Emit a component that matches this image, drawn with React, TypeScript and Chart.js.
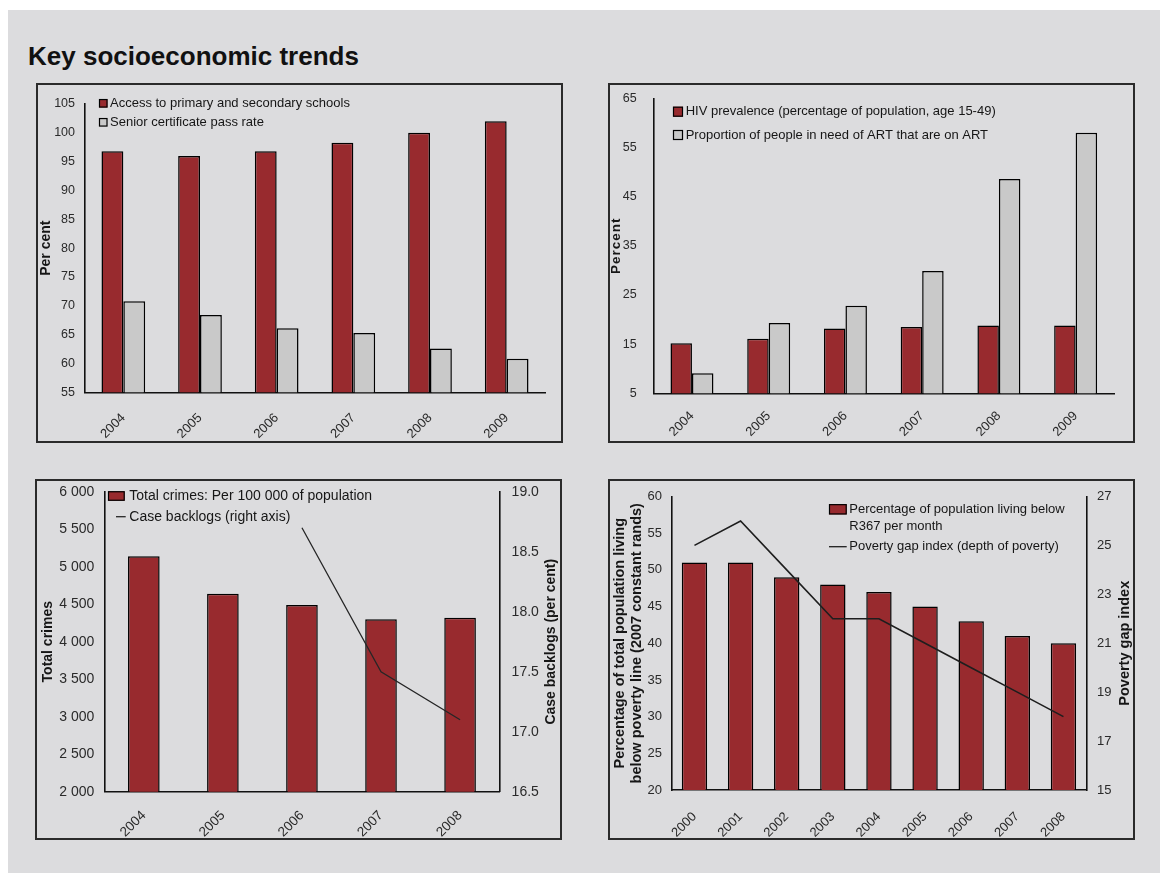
import React, { useEffect, useRef } from 'react';
import { Chart, registerables } from 'chart.js';

Chart.register(...registerables);

const FONT = '"Liberation Sans", Arial, Helvetica, sans-serif';
const RED = '#982a2e';
const LIGHT = '#c9c9c9';
const BG = '#dcdcde';
const INK = '#161616';

// Chart 1: schools
const schoolYears = ['2004', '2005', '2006', '2007', '2008', '2009'];
const schoolAccess = [96.8, 96.0, 96.8, 98.3, 100.0, 102.0];
const seniorPass = [70.8, 68.4, 66.1, 65.3, 62.6, 60.8];

// Chart 2: HIV
const hivYears = ['2004', '2005', '2006', '2007', '2008', '2009'];
const hivPrevalence = [15.2, 16.1, 18.2, 18.5, 18.8, 18.8];
const artCoverage = [9.1, 19.3, 22.8, 29.9, 48.6, 58.0];

// Chart 3: crime
const crimeYears = ['2004', '2005', '2006', '2007', '2008'];
const totalCrimes = [5140, 4640, 4490, 4300, 4320];
const caseBacklogs = [null, null, 18.7, 17.5, 17.1];

// Chart 4: poverty
const povertyYears = ['2000', '2001', '2002', '2003', '2004', '2005', '2006', '2007', '2008'];
const povertyShare = [51, 51, 49, 48, 47, 45, 43, 41, 40];
const povertyGap = [25, 26, 24, 22, 22, 21, 20, 19, 18];

const annotPlugin = {
  id: 'annot',
  afterDatasetsDraw(chart: any, _args: any, opts: any) {
    const ctx = chart.ctx;
    ctx.save();
    const L = opts.legend;
    if (L) {
      ctx.font = `${L.size}px ${FONT}`;
      ctx.textBaseline = 'middle';
      ctx.textAlign = 'left';
      let y = L.y;
      chart.data.datasets.forEach((ds: any) => {
        const lines = String(ds.label).split('\n');
        if (ds.type === 'line') {
          ctx.strokeStyle = ds.borderColor;
          ctx.lineWidth = 1.3;
          ctx.beginPath();
          ctx.moveTo(L.lineX0, y);
          ctx.lineTo(L.lineX1, y);
          ctx.stroke();
        } else {
          ctx.fillStyle = ds.backgroundColor;
          ctx.fillRect(L.x, y - L.h / 2, L.w, L.h);
          ctx.strokeStyle = '#000';
          ctx.lineWidth = 1.2;
          ctx.strokeRect(L.x + 0.5, y - L.h / 2 + 0.5, L.w - 1, L.h - 1);
        }
        ctx.fillStyle = INK;
        lines.forEach((ln: string, i: number) => ctx.fillText(ln, L.textX, y + i * (L.lineH || 0)));
        y += (lines.length - 1) * (L.lineH || 0) + L.gap;
      });
    }
    (opts.titles || []).forEach((t: any) => {
      ctx.save();
      ctx.translate(t.x, (chart.chartArea.top + chart.chartArea.bottom) / 2);
      ctx.rotate(-Math.PI / 2);
      ctx.font = `bold ${t.size}px ${FONT}`;
      if (t.spacing) ctx.letterSpacing = t.spacing;
      ctx.textAlign = 'center';
      ctx.textBaseline = 'middle';
      ctx.fillStyle = INK;
      t.lines.forEach((ln: string, i: number) =>
        ctx.fillText(ln, 0, (i - (t.lines.length - 1) / 2) * (t.lineH || 0))
      );
      ctx.restore();
    });
    ctx.restore();
  },
};

const axisBorder = { display: true, color: '#111', width: 1.6 };
const noGrid = { display: false, drawTicks: false };

function xAxis(height: number, size: number, pad: number) {
  return {
    type: 'category',
    offset: true,
    grid: noGrid,
    border: axisBorder,
    ticks: {
      minRotation: 45,
      maxRotation: 45,
      autoSkip: false,
      padding: pad,
      color: '#2a2a2a',
      font: { family: FONT, size },
    },
    afterFit: (s: any) => {
      s.height = height;
      s.paddingLeft = 0;
      s.paddingRight = 0;
    },
  };
}

function yAxis(opts: any) {
  return {
    type: 'linear',
    position: opts.position || 'left',
    min: opts.min,
    max: opts.max,
    grid: noGrid,
    border: axisBorder,
    ticks: {
      stepSize: opts.step,
      padding: opts.pad,
      color: '#2a2a2a',
      font: { family: FONT, size: opts.size },
      callback: opts.fmt,
    },
    afterFit: (s: any) => {
      s.width = opts.width;
      s.paddingTop = 0;
      s.paddingBottom = 0;
    },
  };
}

const spaceThousands = (v: any) => {
  const s = String(Math.round(Number(v)));
  return s.replace(/\B(?=(\d{3})+(?!\d))/g, ' ');
};

function baseOptions(extra: any) {
  return {
    responsive: false,
    animation: false,
    devicePixelRatio: 1,
    events: [],
    ...extra,
  };
}

const barStyle = { borderColor: '#000', borderWidth: 1.5, barPercentage: 1 };

function config1() {
  return {
    type: 'bar',
    data: {
      labels: schoolYears,
      datasets: [
        {
          label: 'Access to primary and secondary schools',
          data: schoolAccess,
          backgroundColor: RED,
          categoryPercentage: 0.57,
          ...barStyle,
        },
        {
          label: 'Senior certificate pass rate',
          data: seniorPass,
          backgroundColor: LIGHT,
          categoryPercentage: 0.57,
          ...barStyle,
        },
      ],
    },
    options: baseOptions({
      layout: { padding: { top: 19, right: 16, left: 0, bottom: 0 } },
      scales: {
        x: xAxis(48.7, 13, 18),
        y: yAxis({ min: 55, max: 105, step: 5, pad: 10, size: 12.5, width: 47 }),
      },
      plugins: {
        legend: { display: false },
        tooltip: { enabled: false },
        annot: {
          legend: { x: 61, w: 8.5, h: 8.5, textX: 72, y: 18.3, gap: 19, size: 13 },
          titles: [{ x: 8.5, size: 14, lines: ['Per cent'] }],
        },
      },
    }),
    plugins: [annotPlugin],
  };
}

function config2() {
  return {
    type: 'bar',
    data: {
      labels: hivYears,
      datasets: [
        {
          label: 'HIV prevalence (percentage of population, age 15-49)',
          data: hivPrevalence,
          backgroundColor: RED,
          categoryPercentage: 0.56,
          ...barStyle,
        },
        {
          label: 'Proportion of people in need of ART that are on ART',
          data: artCoverage,
          backgroundColor: LIGHT,
          categoryPercentage: 0.56,
          ...barStyle,
        },
      ],
    },
    options: baseOptions({
      layout: { padding: { top: 13.3, right: 19, left: 0, bottom: 0 } },
      scales: {
        x: xAxis(47.7, 13, 15),
        y: yAxis({ min: 5, max: 65, step: 10, pad: 17, size: 12.5, width: 43.6 }),
      },
      plugins: {
        legend: { display: false },
        tooltip: { enabled: false },
        annot: {
          legend: { x: 63, w: 10, h: 10, textX: 75.7, y: 26.7, gap: 23.3, size: 13 },
          titles: [{ x: 6.5, size: 13.5, spacing: '1px', lines: ['Percent'] }],
        },
      },
    }),
    plugins: [annotPlugin],
  };
}

function config3() {
  return {
    type: 'bar',
    data: {
      labels: crimeYears,
      datasets: [
        {
          type: 'bar',
          label: 'Total crimes: Per 100 000 of population',
          data: totalCrimes,
          backgroundColor: RED,
          categoryPercentage: 0.4,
          ...barStyle,
          yAxisID: 'y',
          order: 2,
        },
        {
          type: 'line',
          label: 'Case backlogs (right axis)',
          data: caseBacklogs,
          borderColor: '#262626',
          borderWidth: 1.3,
          pointRadius: 0,
          fill: false,
          tension: 0,
          spanGaps: false,
          yAxisID: 'y1',
          order: 1,
        },
      ],
    },
    options: baseOptions({
      layout: { padding: { top: 10.7, right: 0, left: 0, bottom: 0 } },
      scales: {
        x: xAxis(46.3, 13.5, 16),
        y: yAxis({ min: 2000, max: 6000, step: 500, pad: 10, size: 14, width: 67.3, fmt: spaceThousands }),
        y1: yAxis({
          position: 'right',
          min: 16.5,
          max: 19,
          step: 0.5,
          pad: 12,
          size: 14,
          width: 60.4,
          fmt: (v: any) => Number(v).toFixed(1),
        }),
      },
      plugins: {
        legend: { display: false },
        tooltip: { enabled: false },
        annot: {
          legend: { x: 71, w: 16.7, h: 9.5, textX: 92.3, y: 15, gap: 20.7, size: 14, lineX0: 79, lineX1: 88.7 },
          titles: [
            { x: 10.9, size: 14, lines: ['Total crimes'] },
            { x: 514.4, size: 14, lines: ['Case backlogs (per cent)'] },
          ],
        },
      },
    }),
    plugins: [annotPlugin],
  };
}

function config4() {
  return {
    type: 'bar',
    data: {
      labels: povertyYears,
      datasets: [
        {
          type: 'bar',
          label: 'Percentage of population living below\nR367 per month',
          data: povertyShare,
          backgroundColor: RED,
          categoryPercentage: 0.55,
          ...barStyle,
          yAxisID: 'y',
          order: 2,
        },
        {
          type: 'line',
          label: 'Poverty gap index (depth of poverty)',
          data: povertyGap,
          borderColor: '#1e1e1e',
          borderWidth: 1.6,
          pointRadius: 0,
          fill: false,
          tension: 0,
          yAxisID: 'y1',
          order: 1,
        },
      ],
    },
    options: baseOptions({
      layout: { padding: { top: 15.5, right: 0, left: 0, bottom: 0 } },
      scales: {
        x: xAxis(48, 13, 19),
        y: yAxis({ min: 20, max: 60, step: 5, pad: 9.5, size: 13, width: 61.4 }),
        y1: yAxis({ position: 'right', min: 15, max: 27, step: 2, pad: 10.5, size: 13, width: 46.5 }),
      },
      plugins: {
        legend: { display: false },
        tooltip: { enabled: false },
        annot: {
          legend: { x: 219, w: 17.7, h: 10.3, textX: 239.3, y: 28.3, lineH: 17.4, gap: 20, size: 13, lineX0: 219, lineX1: 236.7 },
          titles: [
            {
              x: 18.4,
              size: 14.5,
              lineH: 16.5,
              lines: ['Percentage of total population living', 'below poverty line (2007 constant rands)'],
            },
            { x: 514.6, size: 14.5, lines: ['Poverty gap index'] },
          ],
        },
      },
    }),
    plugins: [annotPlugin],
  };
}

function Panel(props: { left: number; top: number; width: number; height: number; make: () => any }) {
  const ref = useRef<HTMLCanvasElement>(null);
  const { left, top, width, height, make } = props;
  useEffect(() => {
    if (!ref.current) return;
    const chart = new Chart(ref.current, make());
    return () => chart.destroy();
  }, []);
  return (
    <div
      style={{
        position: 'absolute',
        left,
        top,
        width,
        height,
        border: '2px solid #2b2b2b',
        boxSizing: 'border-box',
      }}
    >
      <canvas
        ref={ref}
        width={width - 4}
        height={height - 4}
        style={{ display: 'block', width: width - 4, height: height - 4 }}
      />
    </div>
  );
}

export default function App() {
  return (
    <div
      style={{
        position: 'absolute',
        left: 8,
        top: 10,
        width: 1152,
        height: 863,
        background: BG,
        overflow: 'hidden',
        fontFamily: FONT,
      }}
    >
      <div
        style={{
          position: 'absolute',
          left: 20,
          top: 31,
          font: `bold 26px ${FONT}`,
          lineHeight: '30px',
          color: '#111',
          whiteSpace: 'nowrap',
        }}
      >
        Key socioeconomic trends
      </div>
      <Panel left={28} top={73} width={527} height={360} make={config1} />
      <Panel left={600} top={73} width={527} height={360} make={config2} />
      <Panel left={27} top={469} width={527} height={361} make={config3} />
      <Panel left={600} top={469} width={527} height={361} make={config4} />
    </div>
  );
}
